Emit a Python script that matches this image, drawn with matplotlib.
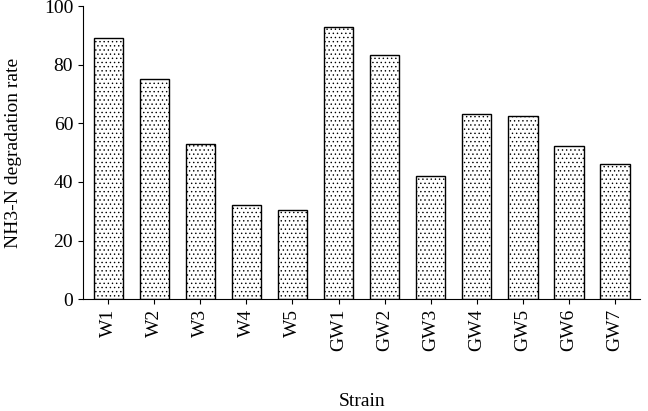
import matplotlib
matplotlib.use("Agg")
import matplotlib.pyplot as plt

plt.rcParams["font.family"] = ["Liberation Serif", "DejaVu Serif"]
plt.rcParams["hatch.linewidth"] = 0.5
plt.rcParams["hatch.color"] = "#444444"

strains = ["W1", "W2", "W3", "W4", "W5", "GW1", "GW2", "GW3", "GW4", "GW5", "GW6", "GW7"]
rates = [89.3, 75.2, 53.0, 32.3, 30.3, 93.0, 83.3, 42.0, 63.2, 62.5, 52.2, 46.3]

fig = plt.figure(figsize=(6.48, 4.11), dpi=100)
ax = fig.add_axes([0.128, 0.272, 0.86, 0.713])

ax.bar(range(len(strains)), rates, width=0.64, color="white",
       edgecolor="black", linewidth=1.0, hatch="....")

ax.set_xlim(-0.55, len(strains) - 0.45)
ax.set_ylim(0, 100)
ax.set_yticks([0, 20, 40, 60, 80, 100])
ax.set_xticks(range(len(strains)))
ax.set_xticklabels(strains, rotation=90, fontsize=14)
ax.tick_params(axis="y", labelsize=14)
ax.set_ylabel("NH3-N degradation rate", fontsize=14, labelpad=16)
ax.set_xlabel("Strain", fontsize=14, labelpad=30)
ax.spines["top"].set_visible(False)
ax.spines["right"].set_visible(False)

fig.savefig("out.png", dpi=100)
